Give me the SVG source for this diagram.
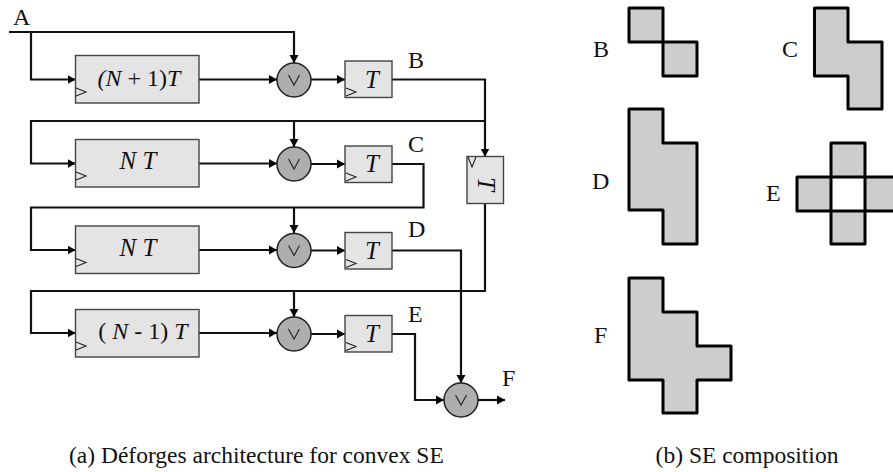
<svg xmlns="http://www.w3.org/2000/svg" width="893" height="472" viewBox="0 0 893 472">
<style>
text{font-family:"Liberation Serif","Times New Roman",serif;fill:#111;font-size:24px}
.c{text-anchor:middle}
.i{font-style:italic}
.m{font-size:25px}
.cap{font-size:23.500px}
.box{fill:#e4e4e4;stroke:#444;stroke-width:1.4}
.or{fill:#aeaeae;stroke:#222;stroke-width:1.5}
.ck{fill:none;stroke:#222;stroke-width:1.1}
.w{fill:none;stroke:#111;stroke-width:2.2;stroke-linejoin:miter}
.se{fill:#cdcdcd;stroke:#000;stroke-width:3;stroke-linejoin:round}
</style>
<defs>
<marker id="a" markerUnits="userSpaceOnUse" markerWidth="9" markerHeight="10" refX="8" refY="5" orient="auto"><path d="M0 0.500L8 5L0 9.500z" fill="#000"/></marker>
<g id="orsym"><circle class="or" r="17"/><path class="ck" d="M-5.500 -5L0 5L5.500 -5"/></g>
</defs>
<rect width="893" height="472" fill="#fff"/>
<g id="connectors">
<path class="w" d="M9 32H294V63" marker-end="url(#a)"/>
<path class="w" d="M31 32V79.500H75.500" marker-end="url(#a)"/>
<path class="w" d="M199 79.500H277" marker-end="url(#a)"/>
<path class="w" d="M311 79.500H345" marker-end="url(#a)"/>
<path class="w" d="M392 79.500H485V156.500" marker-end="url(#a)"/>
<path class="w" d="M485 121H31V163.500H75.500" marker-end="url(#a)"/>
<path class="w" d="M294 121V147" marker-end="url(#a)"/>
<path class="w" d="M199 163.500H277" marker-end="url(#a)"/>
<path class="w" d="M311 164H345" marker-end="url(#a)"/>
<path class="w" d="M392 164H423.500V207.500H31V250H75.500" marker-end="url(#a)"/>
<path class="w" d="M294 207.500V233" marker-end="url(#a)"/>
<path class="w" d="M199 250H277" marker-end="url(#a)"/>
<path class="w" d="M311 250.500H345" marker-end="url(#a)"/>
<path class="w" d="M392 250.500H461V383" marker-end="url(#a)"/>
<path class="w" d="M485 203.500V291H31V333H75.500" marker-end="url(#a)"/>
<path class="w" d="M294 291V317" marker-end="url(#a)"/>
<path class="w" d="M199 333H277" marker-end="url(#a)"/>
<path class="w" d="M311 334H345" marker-end="url(#a)"/>
<path class="w" d="M392 334H415V400H444" marker-end="url(#a)"/>
<path class="w" d="M478 400H505" marker-end="url(#a)"/>
</g>
<g id="delay1"><rect class="box" x="75.500" y="55.500" width="123.500" height="47.500"/><path class="ck" d="M76 88L86 92L76 96"/><text class="c" x="139" y="86"><tspan class="i">(N</tspan> + 1)<tspan class="i">T</tspan></text></g>
<g id="delay2"><rect class="box" x="75.500" y="139.500" width="123.500" height="47.500"/><path class="ck" d="M76 172L86 176L76 180"/><text class="m c i" x="138" y="169">N T</text></g>
<g id="delay3"><rect class="box" x="75.500" y="226" width="123.500" height="47.500"/><path class="ck" d="M76 258.500L86 262.500L76 266.500"/><text class="m c i" x="138" y="256">N T</text></g>
<g id="delay4"><rect class="box" x="75.500" y="309.500" width="123.500" height="47.500"/><path class="ck" d="M76 342L86 346L76 350"/><text class="c" x="143" y="339">( <tspan class="i">N</tspan> - 1) <tspan class="i">T</tspan></text></g>
<g id="or1"><use href="#orsym" x="294" y="80"/></g>
<g id="or2"><use href="#orsym" x="294" y="164"/></g>
<g id="or3"><use href="#orsym" x="294" y="250.500"/></g>
<g id="or4"><use href="#orsym" x="294" y="334"/></g>
<g id="orF"><use href="#orsym" x="461" y="400"/></g>
<g id="t1"><rect class="box" x="345" y="61" width="47" height="36.500"/><path class="ck" d="M346 88L356 92L346 96"/><text class="m c i" x="372" y="88">T</text></g>
<g id="t2"><rect class="box" x="345" y="146" width="47" height="36.500"/><path class="ck" d="M346 173L356 177L346 181"/><text class="m c i" x="372" y="172">T</text></g>
<g id="t3"><rect class="box" x="345" y="232.500" width="47" height="36.500"/><path class="ck" d="M346 259.500L356 263.500L346 267.500"/><text class="m c i" x="372" y="258.500">T</text></g>
<g id="t4"><rect class="box" x="345" y="315.500" width="47" height="36.500"/><path class="ck" d="M346 342.500L356 346.500L346 350.500"/><text class="m c i" x="372" y="342">T</text></g>
<g id="t5"><rect class="box" x="467" y="156.500" width="36.500" height="47"/><path class="ck" d="M468 157L472 167L476 157"/><text class="m c i" transform="translate(478 184) rotate(90)">T</text></g>
<g id="labels">
<text x="13" y="25">A</text>
<text x="408" y="68">B</text>
<text x="408" y="152">C</text>
<text x="408" y="237">D</text>
<text x="408" y="322">E</text>
<text x="502" y="386">F</text>
<text x="593" y="57">B</text>
<text x="782" y="57">C</text>
<text x="592" y="189">D</text>
<text x="766" y="201">E</text>
<text x="594" y="343">F</text>
<text class="cap" x="69" y="463">(a) Déforges architecture for convex SE</text>
<text class="c cap" x="747" y="463">(b) SE composition</text>
</g>
<g id="seB"><path class="se" d="M629 8H663V42H629Z"/><path class="se" d="M663 42H697V76H663Z"/></g>
<g id="seC"><path class="se" d="M814.500 8H848V42H882V109H848V76H814.500Z"/></g>
<g id="seD"><path class="se" d="M629 109H663V143H697V244H663V210H629Z"/></g>
<g id="seE"><path class="se" d="M831 143H865V177H899V211H865V244H831V211H797V177H831Z"/><path class="se" style="fill:#fff" d="M831 177H865V211H831Z"/></g>
<g id="seF"><path class="se" d="M629 278H663V312H697V346H731V380H697V413H663V380H629Z"/></g>
</svg>
